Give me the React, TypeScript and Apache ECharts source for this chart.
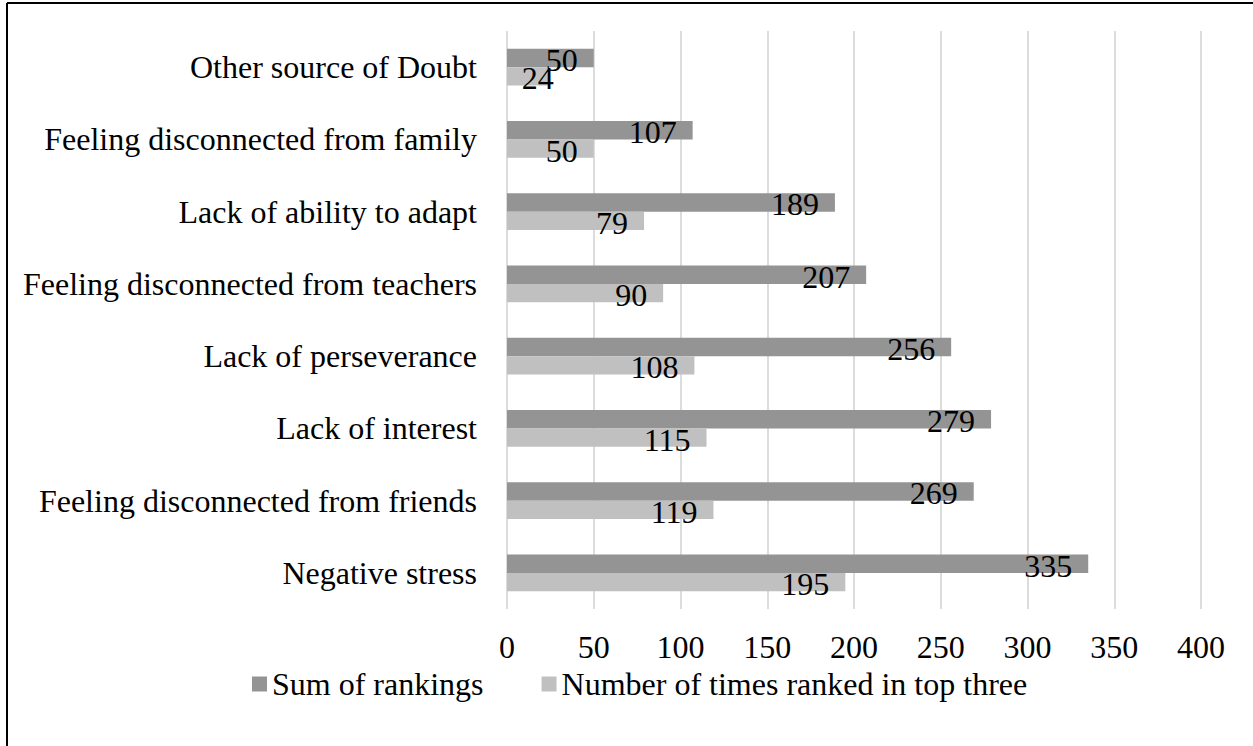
import React, { useEffect, useRef } from "react";
import * as echarts from "echarts";

const categories = [
  "Negative stress",
  "Feeling disconnected from friends",
  "Lack of interest",
  "Lack of perseverance",
  "Feeling disconnected from teachers",
  "Lack of ability to adapt",
  "Feeling disconnected from family",
  "Other source of Doubt",
];
const sumOfRankings = [335, 269, 279, 256, 207, 189, 107, 50];
const rankedTopThree = [195, 119, 115, 108, 90, 79, 50, 24];
const seriesNames = ["Sum of rankings", "Number of times ranked in top three"];
const axisMin = 0;
const axisMax = 400;
const axisInterval = 50;

const FONT = '"Liberation Serif", "Times New Roman", serif';

export default function App() {
  const ref = useRef<HTMLDivElement>(null);

  useEffect(() => {
    if (!ref.current) return;
    const chart = echarts.init(ref.current, undefined, { renderer: "svg" });
    const labelCfg = {
      show: true,
      position: "insideRight" as const,
      distance: 16,
      offset: [0, 2],
      color: "#000",
      fontSize: 32,
      fontFamily: FONT,
    };
    chart.setOption({
      animation: false,
      backgroundColor: "#fff",
      textStyle: { fontFamily: FONT },
      graphic: [
        {
          type: "line",
          shape: { x1: 7, y1: 3, x2: 7, y2: 746 },
          style: { stroke: "#000", lineWidth: 2 },
        },
        {
          type: "line",
          shape: { x1: 7, y1: 3, x2: 1253, y2: 3 },
          style: { stroke: "#000", lineWidth: 2 },
        },
      ],
      grid: { left: 507, right: 52, top: 31, bottom: 137, containLabel: false },
      legend: {
        left: 247,
        top: 663,
        itemWidth: 15,
        itemHeight: 15,
        itemGap: 58,
        icon: "rect",
        textStyle: { fontSize: 32, fontFamily: FONT, color: "#000" },
        data: seriesNames,
      },
      xAxis: {
        type: "value",
        min: axisMin,
        max: axisMax,
        interval: axisInterval,
        axisLine: { show: false },
        axisTick: { show: false },
        axisLabel: { fontSize: 32, fontFamily: FONT, color: "#000", margin: 22 },
        splitLine: { show: true, lineStyle: { color: "#dcdcdc", width: 2 } },
      },
      yAxis: {
        type: "category",
        data: categories,
        axisLine: { show: false },
        axisTick: { show: false },
        axisLabel: { fontSize: 32, fontFamily: FONT, color: "#000", margin: 30 },
        splitLine: { show: false },
      },
      series: [
        {
          name: seriesNames[0],
          type: "bar",
          data: sumOfRankings,
          barGap: "0%",
          barCategoryGap: "49%",
          itemStyle: { color: "#949494" },
          label: labelCfg,
        },
        {
          name: seriesNames[1],
          type: "bar",
          data: rankedTopThree.map((v) =>
            v < 30 ? { value: v, label: { offset: [21, 2] } } : v
          ),
          barGap: "0%",
          barCategoryGap: "49%",
          itemStyle: { color: "#c0c0c0" },
          label: labelCfg,
        },
      ],
    });
    return () => chart.dispose();
  }, []);

  return (
    <div
      ref={ref}
      style={{
        position: "absolute",
        left: 0,
        top: 0,
        width: 1253,
        height: 746,
        background: "#fff",
      }}
    />
  );
}
